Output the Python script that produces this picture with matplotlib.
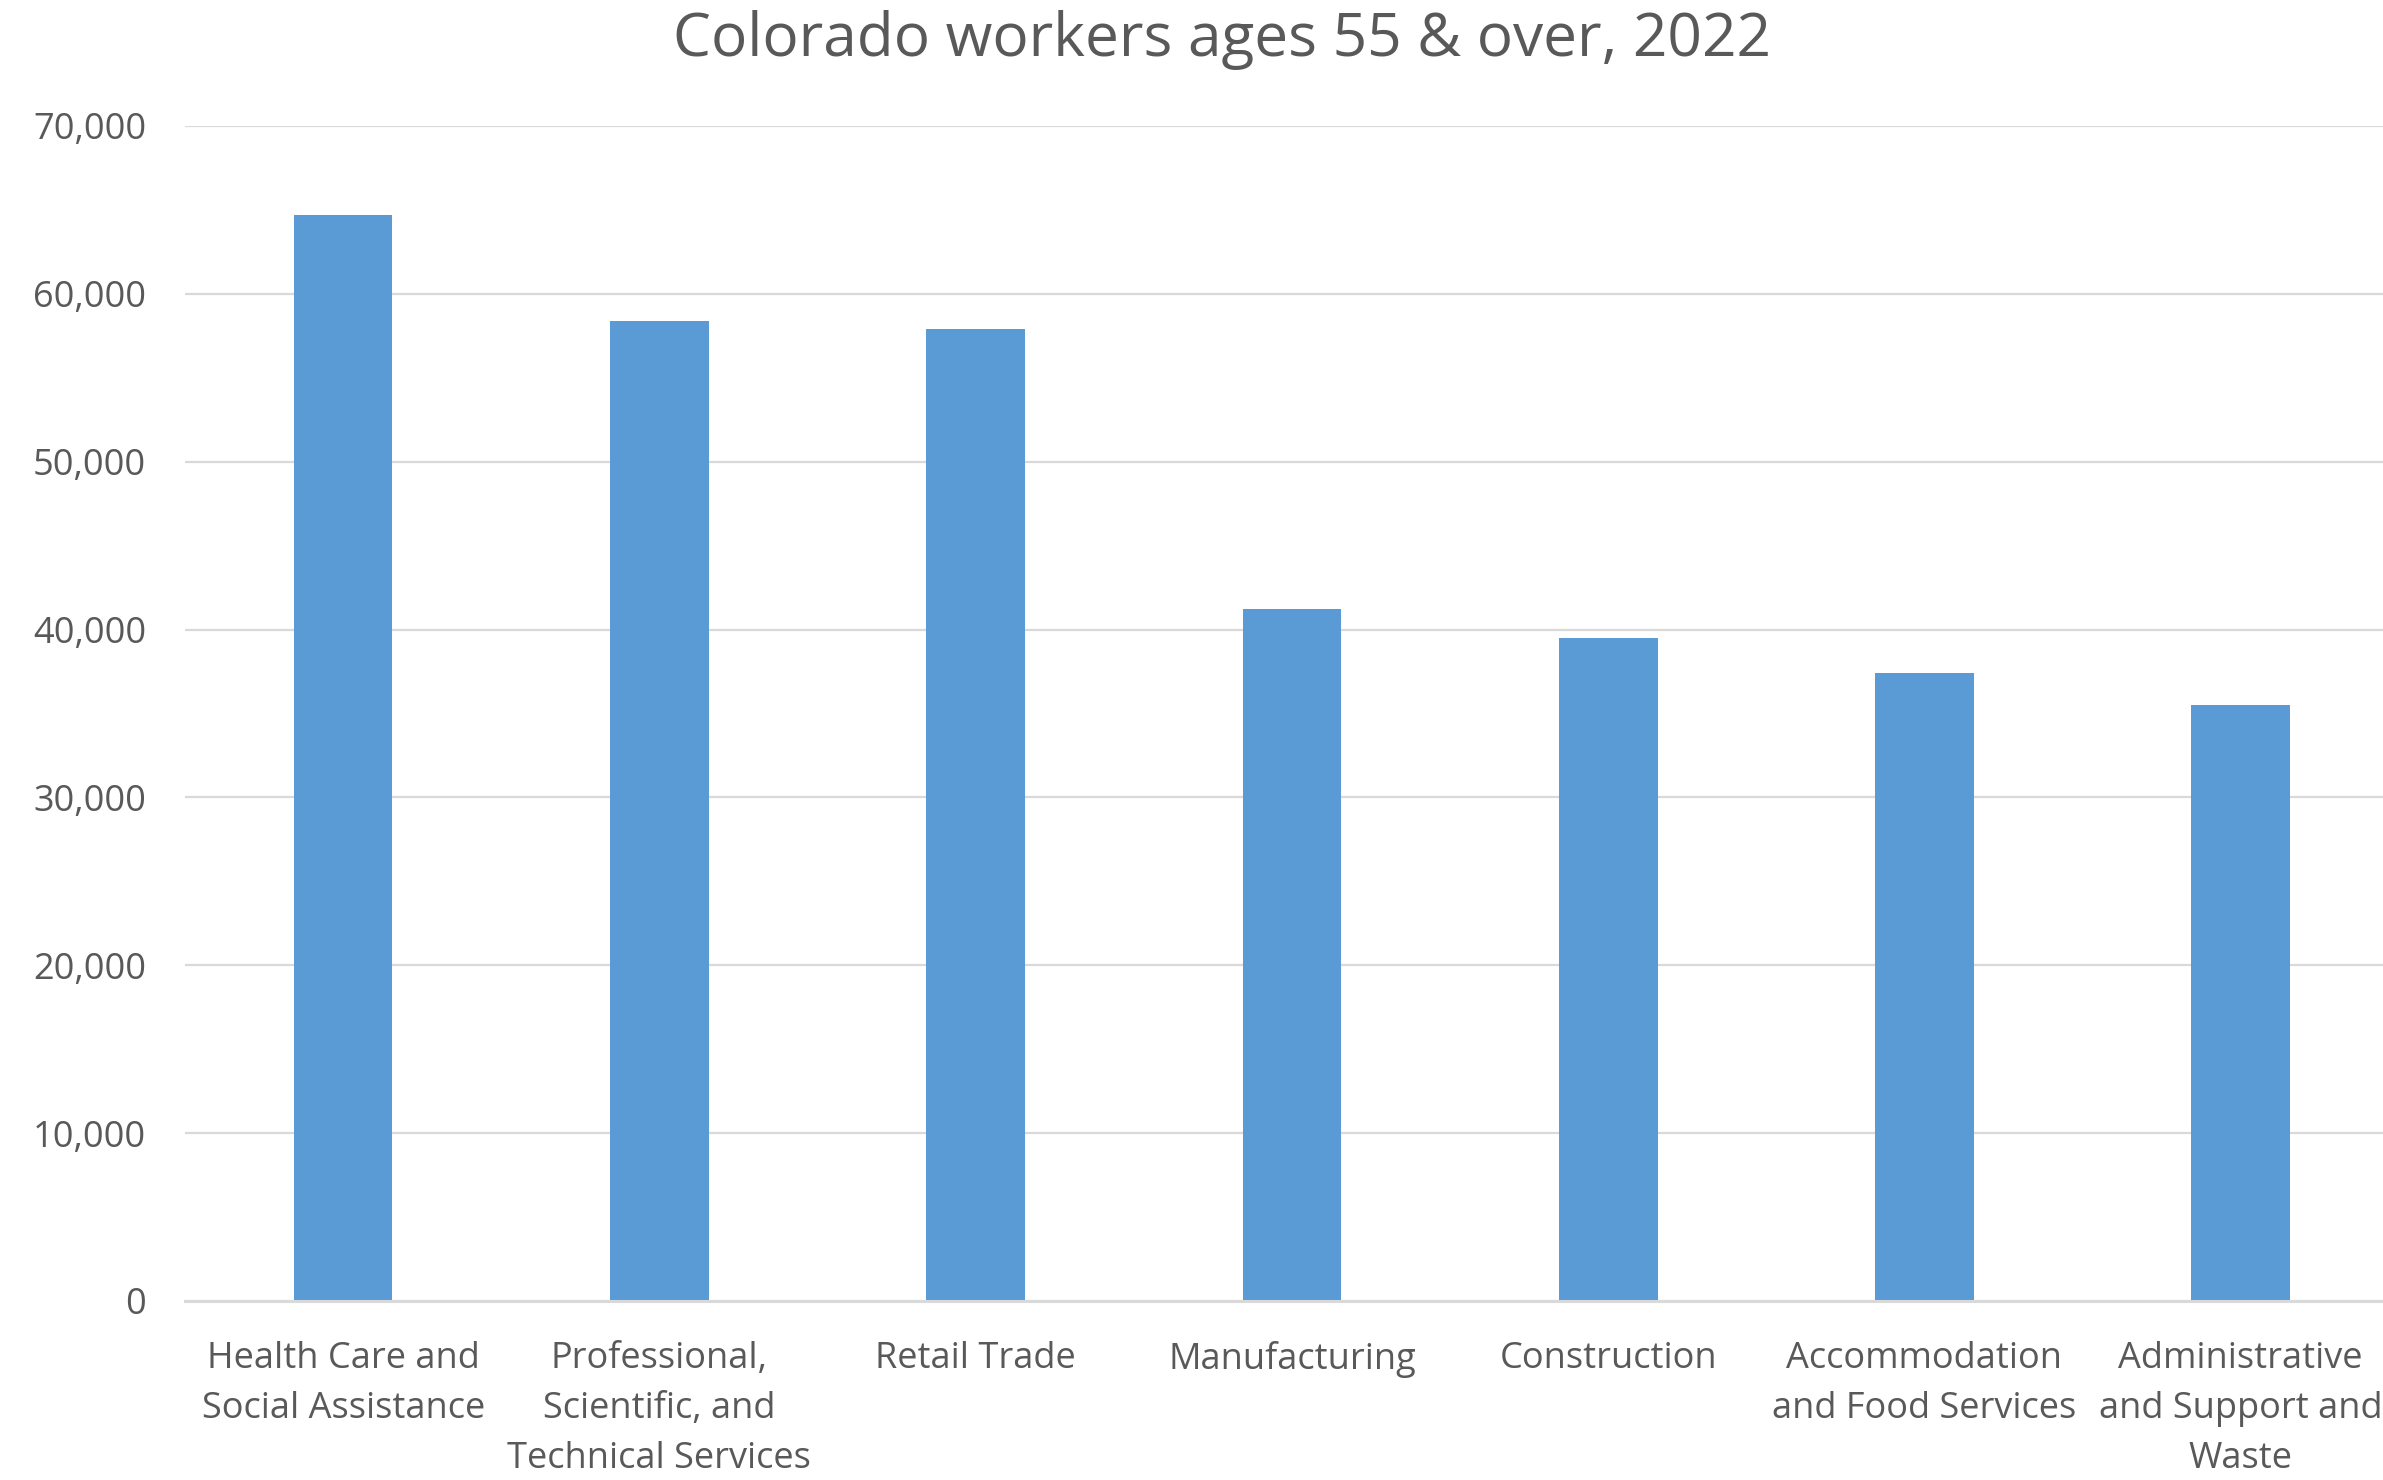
import matplotlib
matplotlib.use("Agg")
import matplotlib.pyplot as plt
from matplotlib.ticker import FuncFormatter

# industries and workers aged 55+
industries = [
    "Health Care and\nSocial Assistance",
    "Professional,\nScientific, and\nTechnical Services",
    "Retail Trade",
    "Manufacturing",
    "Construction",
    "Accommodation\nand Food Services",
    "Administrative\nand Support and\nWaste",
]
workers = [64700, 58400, 57900, 41200, 39500, 37400, 35500]
y_ticks = [0, 10000, 20000, 30000, 40000, 50000, 60000, 70000]

text_color = "#595959"
grid_color = "#d9d9d9"
bar_color = "#5b9bd5"

plt.rcParams['font.family'] = ['Open Sans', 'DejaVu Sans']

fig = plt.figure(figsize=(23.83, 14.80), dpi=100)
ax = fig.add_axes([185 / 2383, 179 / 1480, 1 - 185 / 2383, (1301 - 126) / 1480])

x = list(range(len(industries)))
ax.bar(x, workers, width=0.312, color=bar_color, zorder=3)

ax.set_xlim(-0.5, 6.45)
ax.set_ylim(0, 70000)
ax.set_yticks(y_ticks)
ax.yaxis.set_major_formatter(FuncFormatter(lambda v, p: f"{int(v):,}"))
ax.set_xticks(x)
ax.set_xticklabels(industries, linespacing=1.52)

ax.grid(axis='y', color=grid_color, linewidth=1.6, zorder=0)
for side in ['top', 'right', 'left']:
    ax.spines[side].set_visible(False)
ax.spines['bottom'].set_color(grid_color)
ax.spines['bottom'].set_linewidth(2.2)
ax.spines['bottom'].set_zorder(4)

ax.tick_params(axis='both', length=0, labelsize=26, labelcolor=text_color)
ax.tick_params(axis='x', pad=29)
ax.tick_params(axis='y', pad=28)

fig.text(1222 / 2383, 1 - 40 / 1480, "Colorado workers ages 55 & over, 2022",
         ha='center', va='center', fontsize=43.5, color=text_color)

fig.savefig("out.png", dpi=100)
